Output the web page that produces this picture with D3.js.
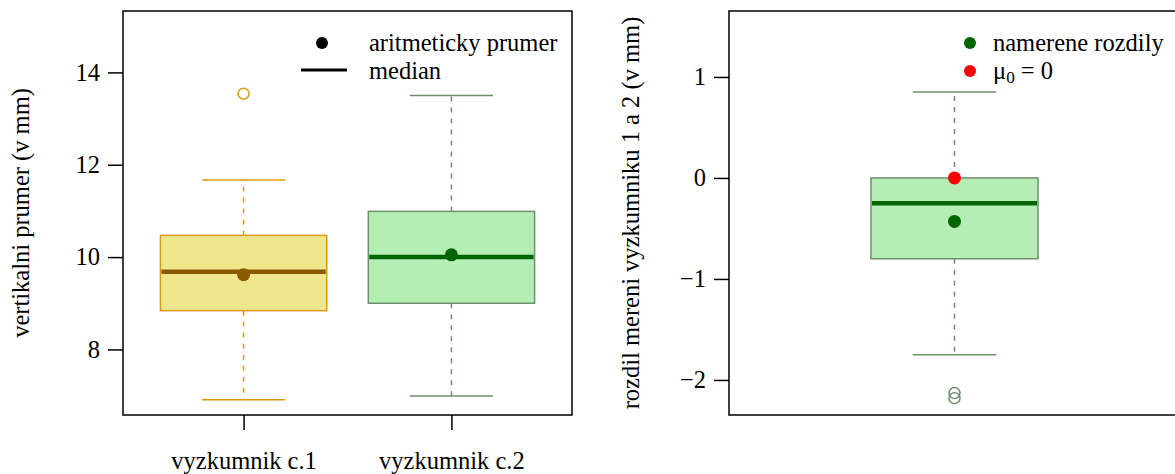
<!DOCTYPE html>
<html>
<head>
<meta charset="utf-8">
<script src="https://cdn.jsdelivr.net/npm/d3@7"></script>
<style>
  html, body { margin: 0; padding: 0; background: #fff; }
  svg { display: block; }
  text { font-family: "Liberation Serif", "Times New Roman", serif; fill: #000; }
</style>
</head>
<body>
<svg id="chart" width="1175" height="474"></svg>
<script>
// ---- data: vertical diameter measured by two researchers (mm) ----
const categories   = ["vyzkumnik c.1", "vyzkumnik c.2"];
const q1           = [8.84, 9.00];
const medians      = [9.68, 10.00];
const q3           = [10.47, 10.99];
const whiskerLow   = [6.91, 6.99];
const whiskerHigh  = [11.67, 13.50];
const means        = [9.62, 10.05];
const outliers     = [[13.54], []];
const leftTicks    = [8, 10, 12, 14];

// ---- data: differences between the two researchers (mm) ----
const diffQ1        = -0.80;
const diffMedian    = -0.25;
const diffQ3        = 0.00;
const diffLow       = -1.75;
const diffHigh      = 0.85;
const diffMean      = -0.43;
const diffOutliers  = [-2.13, -2.18];
const mu0           = 0;
const rightTicks    = [-2, -1, 0, 1];

// ---- styles ----
const fills   = ["#F0E68C", "#B4EEB4"];
const borders = ["#DB9A0A", "#6E8F6E"];
const medCols = ["#8B5A00", "#006400"];
const fontSize = 24.5;

const svg = d3.select("#chart");

function minusFmt(d) { return d < 0 ? "\u2212" + Math.abs(d) : String(d); }

function drawBox(g, x, y, cx, halfW, s) {
  // whiskers (dashed)
  g.append("line").attr("x1", x(cx)).attr("x2", x(cx))
    .attr("y1", y(s.q3)).attr("y2", y(s.hi))
    .attr("stroke", s.border).attr("stroke-width", 1.5).attr("stroke-dasharray", "5,6");
  g.append("line").attr("x1", x(cx)).attr("x2", x(cx))
    .attr("y1", y(s.q1)).attr("y2", y(s.lo))
    .attr("stroke", s.border).attr("stroke-width", 1.5).attr("stroke-dasharray", "5,6");
  // whisker caps
  [s.hi, s.lo].forEach(v => {
    g.append("line").attr("x1", x(cx - halfW / 2)).attr("x2", x(cx + halfW / 2))
      .attr("y1", y(v)).attr("y2", y(v))
      .attr("stroke", s.border).attr("stroke-width", 1.5);
  });
  // box
  g.append("rect").attr("x", x(cx - halfW)).attr("width", x(cx + halfW) - x(cx - halfW))
    .attr("y", y(s.q3)).attr("height", y(s.q1) - y(s.q3))
    .attr("fill", s.fill).attr("stroke", s.border).attr("stroke-width", 1.5);
  // median
  g.append("line").attr("x1", x(cx - halfW) + 1).attr("x2", x(cx + halfW) - 1)
    .attr("y1", y(s.med)).attr("y2", y(s.med))
    .attr("stroke", s.medCol).attr("stroke-width", 4.5);
  // outliers
  s.out.forEach(v => {
    g.append("circle").attr("cx", x(cx)).attr("cy", y(v)).attr("r", 5.5)
      .attr("fill", "none").attr("stroke", s.border).attr("stroke-width", 1.5);
  });
}

function frame(g, x0, x1, y0, y1) {
  g.append("rect").attr("x", x0).attr("y", y0).attr("width", x1 - x0).attr("height", y1 - y0)
    .attr("fill", "none").attr("stroke", "#000").attr("stroke-width", 1.5);
}

function yAxis(g, y, ticks, x0, fmt) {
  const ax = d3.axisLeft(y).tickValues(ticks).tickSize(15).tickPadding(8).tickFormat(fmt);
  const a = g.append("g").attr("transform", `translate(${x0},0)`).call(ax);
  a.select(".domain").remove();
  a.selectAll(".tick line").attr("stroke", "#000").attr("stroke-width", 1.5);
  a.selectAll(".tick text").style("font-family", "'Liberation Serif', serif")
    .style("font-size", fontSize + "px").attr("fill", "#000");
}

// ================= left panel =================
const L = { x0: 123, x1: 572, y0: 11, y1: 415 };
const xL = d3.scaleLinear().domain([0.42, 2.58]).range([L.x0, L.x1]);
const yL = d3.scaleLinear().domain([6.58, 15.33]).range([L.y1, L.y0]);
const gL = svg.append("g");

categories.forEach((c, i) => {
  drawBox(gL, xL, yL, i + 1, 0.4, {
    q1: q1[i], q3: q3[i], med: medians[i], lo: whiskerLow[i], hi: whiskerHigh[i],
    out: outliers[i], fill: fills[i], border: borders[i], medCol: medCols[i]
  });
  gL.append("circle").attr("cx", xL(i + 1)).attr("cy", yL(means[i])).attr("r", 6.5)
    .attr("fill", medCols[i]);
});

frame(gL, L.x0, L.x1, L.y0, L.y1);
yAxis(gL, yL, leftTicks, L.x0, d3.format("d"));

const axB = d3.axisBottom(xL).tickValues([1, 2]).tickSize(15).tickPadding(22)
  .tickFormat((d, i) => categories[i]);
const aB = gL.append("g").attr("transform", `translate(0,${L.y1})`).call(axB);
aB.select(".domain").remove();
aB.selectAll(".tick line").attr("stroke", "#000").attr("stroke-width", 1.5);
aB.selectAll(".tick text").style("font-family", "'Liberation Serif', serif")
  .style("font-size", fontSize + "px").attr("fill", "#000");

gL.append("text").attr("transform", `translate(29,${(L.y0 + L.y1) / 2}) rotate(-90)`)
  .attr("text-anchor", "middle").style("font-size", fontSize + "px")
  .text("vertikalni prumer (v mm)");

// legend
gL.append("circle").attr("cx", 322).attr("cy", 43).attr("r", 6).attr("fill", "#000");
gL.append("line").attr("x1", 301).attr("x2", 347).attr("y1", 70).attr("y2", 70)
  .attr("stroke", "#000").attr("stroke-width", 3);
gL.append("text").attr("x", 369).attr("y", 51).style("font-size", fontSize + "px").text("aritmeticky prumer");
gL.append("text").attr("x", 369).attr("y", 79).style("font-size", fontSize + "px").text("median");

// ================= right panel =================
const R = { x0: 729, x1: 1180, y0: 11, y1: 415 };
const xR = d3.scaleLinear().domain([0.46, 1.54]).range([R.x0, R.x1]);
const yR = d3.scaleLinear().domain([-2.347, 1.653]).range([R.y1, R.y0]);
const gR = svg.append("g");

drawBox(gR, xR, yR, 1, 0.2, {
  q1: diffQ1, q3: diffQ3, med: diffMedian, lo: diffLow, hi: diffHigh,
  out: diffOutliers, fill: fills[1], border: borders[1], medCol: medCols[1]
});
gR.append("circle").attr("cx", xR(1)).attr("cy", yR(diffMean)).attr("r", 6.5).attr("fill", "#006400");
gR.append("circle").attr("cx", xR(1)).attr("cy", yR(mu0)).attr("r", 6.5).attr("fill", "#FF0000");

frame(gR, R.x0, R.x1, R.y0, R.y1);
yAxis(gR, yR, rightTicks, R.x0, minusFmt);

gR.append("text").attr("transform", `translate(639,${(R.y0 + R.y1) / 2}) rotate(-90)`)
  .attr("text-anchor", "middle").style("font-size", fontSize + "px")
  .text("rozdil mereni vyzkumniku 1 a 2 (v mm)");

// legend
gR.append("circle").attr("cx", 970).attr("cy", 43).attr("r", 6).attr("fill", "#006400");
gR.append("circle").attr("cx", 970).attr("cy", 71).attr("r", 6).attr("fill", "#FF0000");
gR.append("text").attr("x", 993).attr("y", 51).style("font-size", fontSize + "px").text("namerene rozdily");
const mu = gR.append("text").attr("x", 993).attr("y", 79).style("font-size", fontSize + "px");
mu.append("tspan").text("\u03BC");
mu.append("tspan").attr("dy", 4).style("font-size", (fontSize * 0.7) + "px").text("0");
mu.append("tspan").attr("dy", -4).text(" = 0");
</script>
</body>
</html>
